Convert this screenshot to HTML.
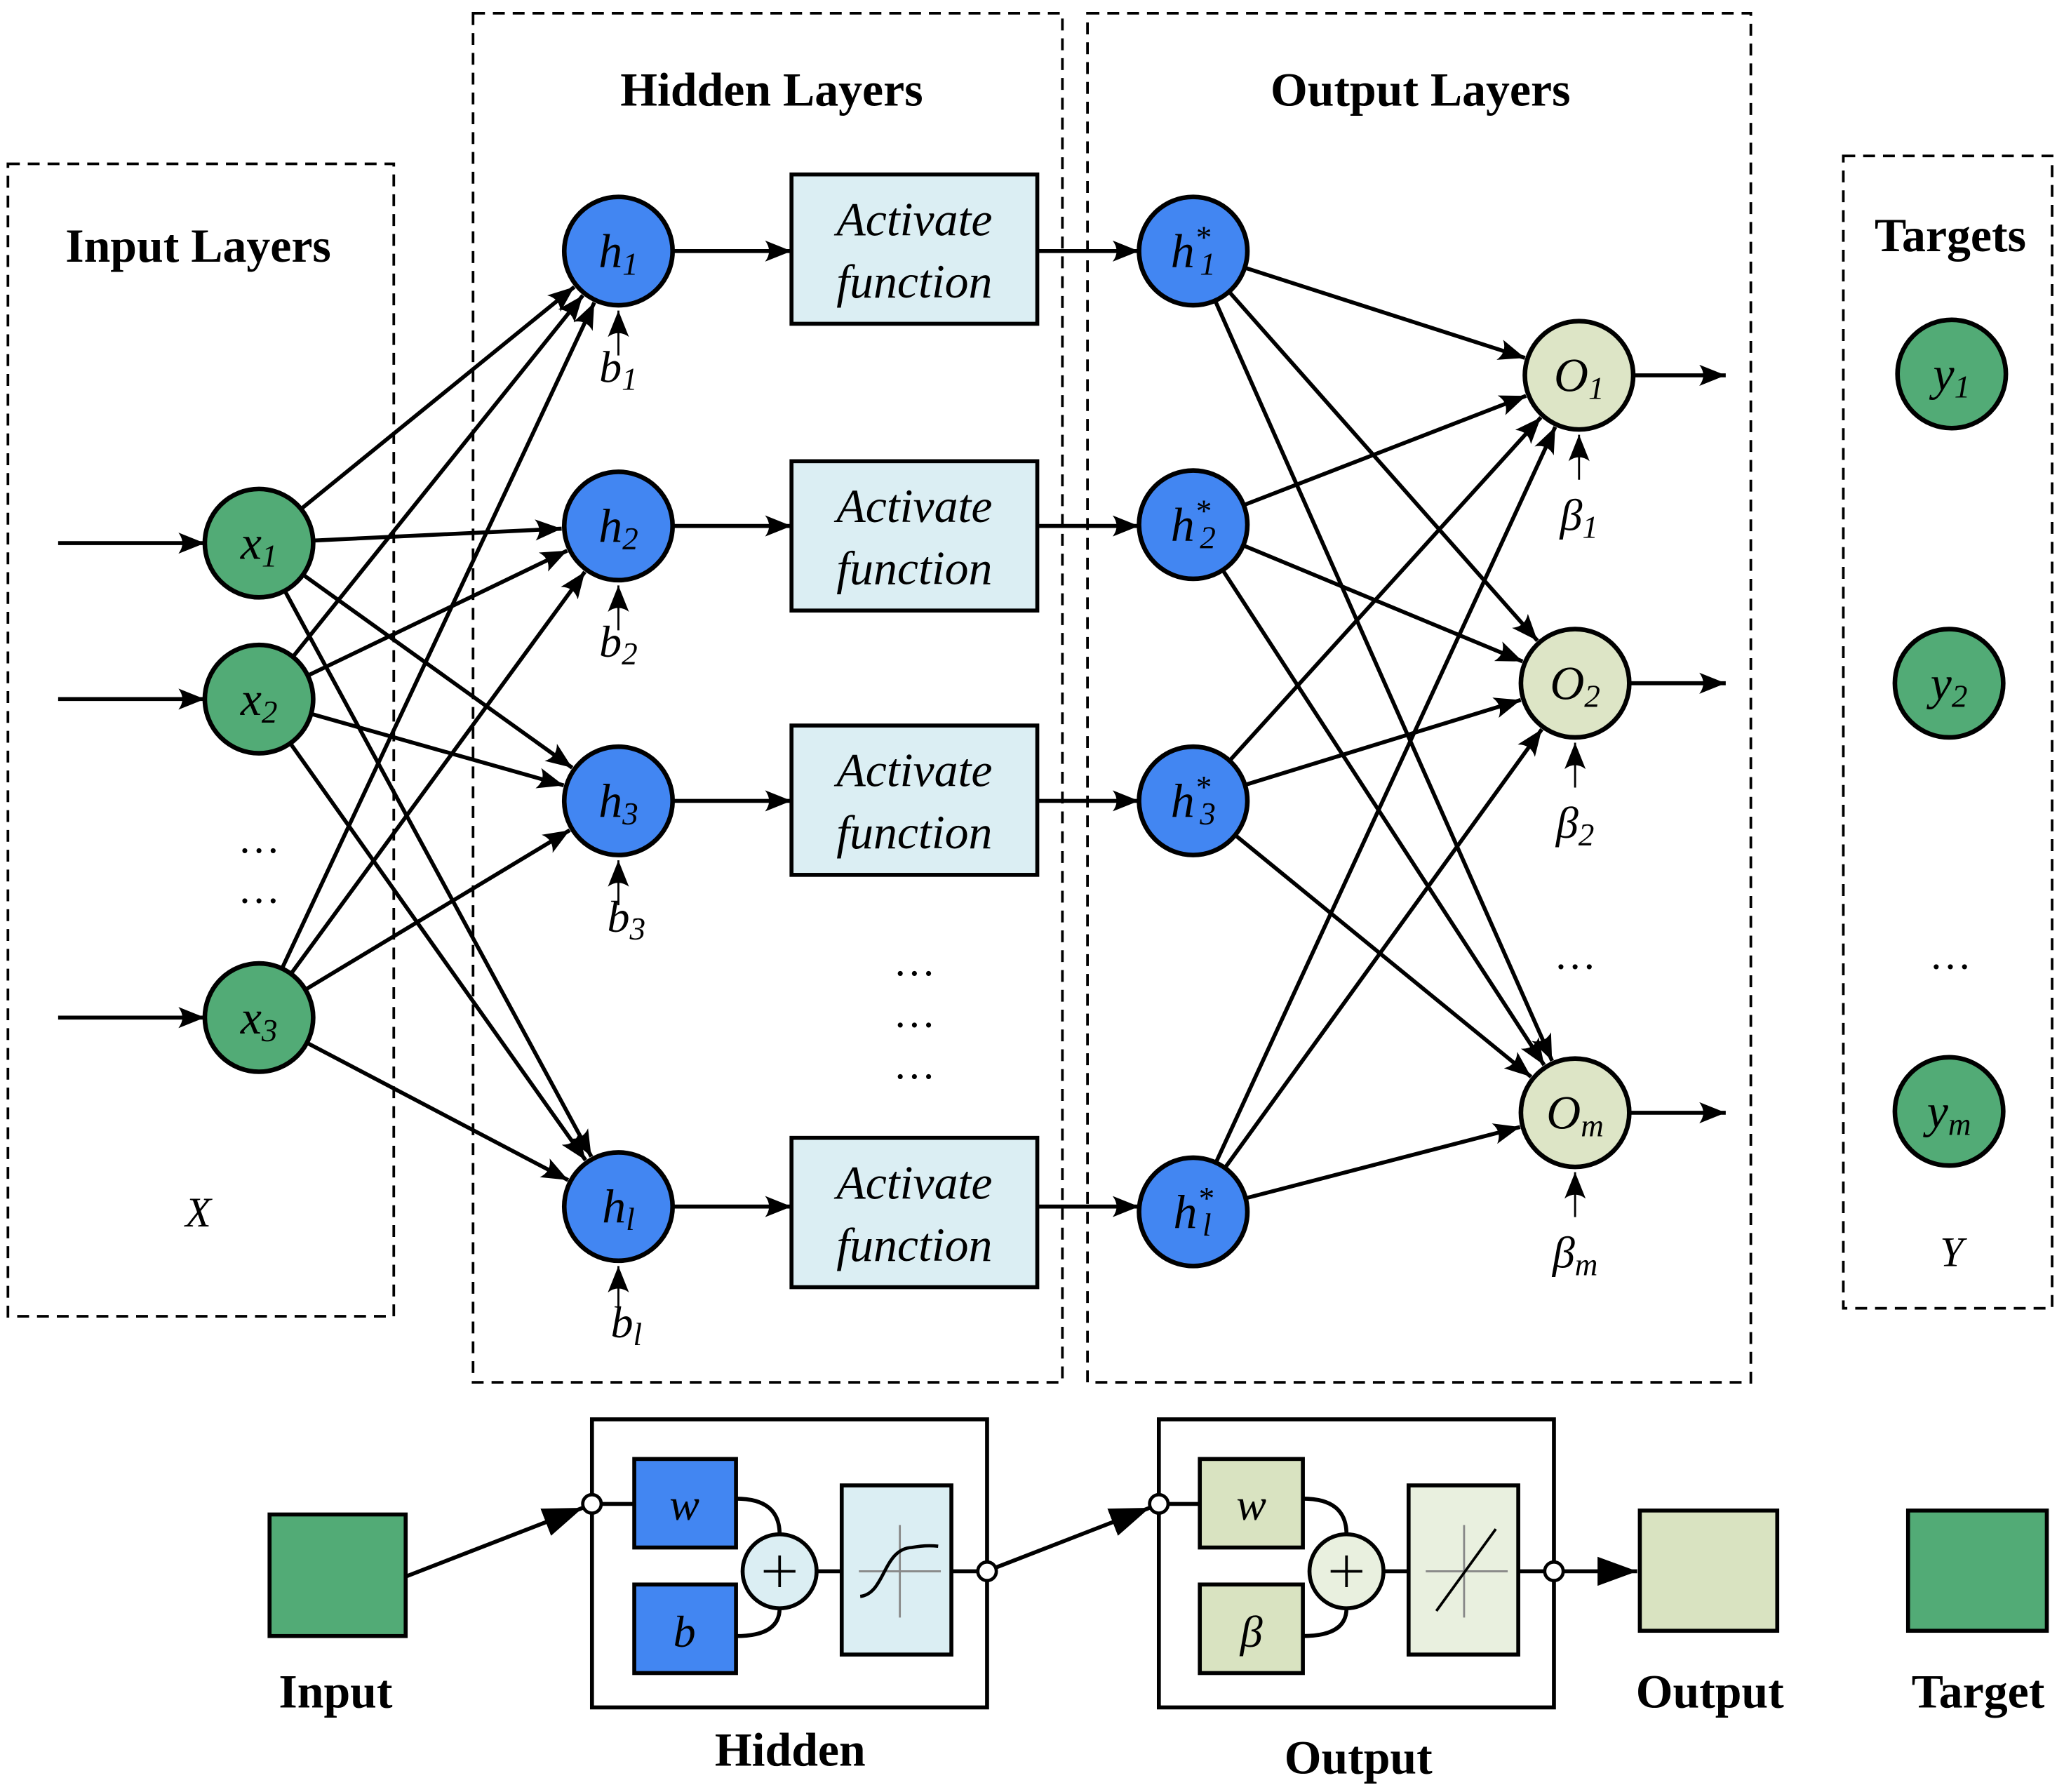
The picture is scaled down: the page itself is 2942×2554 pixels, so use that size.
<!DOCTYPE html>
<html><head><meta charset="utf-8"><style>
html,body{margin:0;padding:0;background:#fff}
svg{display:block}
text{font-family:"Liberation Serif",serif}
</style></head><body>
<svg id="s" width="2942" height="2554" viewBox="0 0 1562 1356" xmlns="http://www.w3.org/2000/svg">
<defs>
<marker id="a" viewBox="0 0 20 16" refX="20" refY="8" markerWidth="20" markerHeight="16" markerUnits="userSpaceOnUse" orient="auto">
<path d="M0,0 Q6,8 0,16 L20,8 Z" fill="#000"/></marker>
<marker id="t" viewBox="0 0 30 22" refX="30" refY="11" markerWidth="30" markerHeight="22" markerUnits="userSpaceOnUse" orient="auto">
<path d="M0,0 L30,11 L0,22 Z" fill="#000"/></marker>
</defs>
<g fill="none" stroke="#000" stroke-width="2" stroke-dasharray="9,6">
<rect x="6" y="124" width="292" height="872"/>
<rect x="358" y="10" width="446" height="1036"/>
<rect x="823" y="10" width="502" height="1036"/>
<rect x="1395" y="118" width="158" height="872"/>
</g>
<g font-size="36" font-weight="bold" text-anchor="middle">
<text x="150" y="198">Input Layers</text>
<text x="584" y="80">Hidden Layers</text>
<text x="1075" y="80">Output Layers</text>
<text x="1476" y="190">Targets</text>
</g>
<g id="edges" stroke="#000" stroke-width="3" fill="none"></g>
<g id="nodes"></g>
<g font-size="32" font-style="italic" text-anchor="middle">
<text x="150" y="928">X</text>
<text x="1477" y="958">Y</text>
<text x="196" y="645" font-style="normal">…</text>
<text x="196" y="683" font-style="normal">…</text>
<text x="692" y="738" font-style="normal">…</text>
<text x="692" y="777" font-style="normal">…</text>
<text x="692" y="816" font-style="normal">…</text>
<text x="1192" y="733" font-style="normal">…</text>
<text x="1476" y="733" font-style="normal">…</text>
</g>
<g stroke="#000">
<rect x="204" y="1146" width="103" height="92" fill="#52ab76" stroke-width="3"/>
<rect x="448" y="1074" width="299" height="218" fill="none" stroke-width="3"/>
<rect x="877" y="1074" width="299" height="218" fill="none" stroke-width="3"/>
<line x1="448" y1="1138" x2="480" y2="1138" stroke-width="3"/>
<line x1="877" y1="1138" x2="908" y2="1138" stroke-width="3"/>
<path d="M557,1134 Q590,1134 590,1161 M557,1238 Q590,1238 590,1217 M618,1189 H637 M720,1189 H747" fill="none" stroke-width="3"/>
<path d="M986,1134 Q1019,1134 1019,1161 M986,1238 Q1019,1238 1019,1217 M1047,1189 H1066 M1149,1189 H1176" fill="none" stroke-width="3"/>
<rect x="480" y="1104" width="77" height="67" fill="#4286f2" stroke-width="3"/>
<rect x="480" y="1199" width="77" height="67" fill="#4286f2" stroke-width="3"/>
<rect x="908" y="1104" width="78" height="67" fill="#d9e3c1" stroke-width="3"/>
<rect x="908" y="1199" width="78" height="67" fill="#d9e3c1" stroke-width="3"/>
<ellipse cx="590" cy="1189" rx="28" ry="28" fill="#dbeef3" stroke-width="3"/>
<ellipse cx="1019" cy="1189" rx="28" ry="28" fill="#e9f0df" stroke-width="3"/>
<path d="M578,1189 H602 M590,1177 V1201 M1007,1189 H1031 M1019,1177 V1201" stroke-width="2"/>
<rect x="637" y="1124" width="83" height="128" fill="#dbeef3" stroke-width="3"/>
<rect x="1066" y="1124" width="83" height="128" fill="#e9f0df" stroke-width="3"/>
<path d="M650,1189 H712 M681,1154 V1224 M1079,1189 H1141 M1108,1154 V1224" stroke="#888" stroke-width="1.5"/>
<path d="M651,1208 C670,1206 668,1172 690,1171 Q700,1169 710,1170" fill="none" stroke-width="2.5"/>
<path d="M1087,1219 L1132,1157" fill="none" stroke-width="2"/>
<rect x="1241" y="1143" width="104" height="91" fill="#d9e3c1" stroke-width="3"/>
<rect x="1444" y="1143" width="105" height="91" fill="#52ab76" stroke-width="3"/>
<line x1="307" y1="1193" x2="441" y2="1141" stroke-width="3" marker-end="url(#t)"/>
<line x1="754" y1="1186" x2="870" y2="1141" stroke-width="3" marker-end="url(#t)"/>
<line x1="1183" y1="1189" x2="1239" y2="1189" stroke-width="3" marker-end="url(#t)"/>
<circle cx="448" cy="1138" r="7" fill="#fff" stroke-width="2.5"/>
<circle cx="747" cy="1189" r="7" fill="#fff" stroke-width="2.5"/>
<circle cx="877" cy="1138" r="7" fill="#fff" stroke-width="2.5"/>
<circle cx="1176" cy="1189" r="7" fill="#fff" stroke-width="2.5"/>
</g>
<g font-size="34" font-style="italic" text-anchor="middle">
<text x="518" y="1150">w</text><text x="518" y="1246">b</text>
<text x="947" y="1150">w</text><text x="947" y="1246">β</text>
</g>
<g font-size="36" font-weight="bold" text-anchor="middle">
<text x="254" y="1292">Input</text>
<text x="598" y="1336">Hidden</text>
<text x="1028" y="1342">Output</text>
<text x="1294" y="1292">Output</text>
<text x="1497" y="1292">Target</text>
</g>
</svg>
<script>
var NS="http://www.w3.org/2000/svg";
var E=document.getElementById("edges"),N=document.getElementById("nodes");
function el(p,t,a,txt){var e=document.createElementNS(NS,t);for(var k in a)e.setAttribute(k,a[k]);if(txt!==undefined)e.innerHTML=txt;p.appendChild(e);return e;}
function ln(x1,y1,x2,y2,w){el(E,"line",{x1:x1,y1:y1,x2:x2,y2:y2,"stroke-width":w||3,"marker-end":"url(#a)"});}
var R=41;
function sub(s){return "<tspan baseline-shift='-25%' font-size='24'>"+s+"</tspan>";}
var X=[[196,411,"1"],[196,529,"2"],[196,770,"3"]];
var H=[[468,190,"1"],[468,398,"2"],[468,606,"3"],[468,913,"l"]];
var HS=[[903,190,"1"],[903,397,"2"],[903,606,"3"],[903,917,"l"]];
var O=[[1195,284,"1"],[1192,517,"2"],[1192,842,"m"]];
var Y=[[1477,283,"1"],[1475,517,"2"],[1475,841,"m"]];
function edge(a,b){var dx=b[0]-a[0],dy=b[1]-a[1],d=Math.hypot(dx,dy);ln(a[0]+dx/d*R,a[1]+dy/d*R,b[0]-dx/d*(R+2),b[1]-dy/d*(R+2));}
X.forEach(function(x){ln(44,x[1],x[0]-R,x[1]);H.forEach(function(h){edge(x,h);});});
HS.forEach(function(h){O.forEach(function(o){edge(h,o);});});
var boxY=[132,349,549,861];
H.forEach(function(h,i){ln(h[0]+R,h[1],599,h[1]);ln(785,h[1],HS[i][0]-R,h[1]);
 ln(h[0],h[1]+R+38,h[0],h[1]+R+4,1.5);});
O.forEach(function(o){ln(o[0]+R,o[1],1306,o[1]);ln(o[0],o[1]+R+38,o[0],o[1]+R+4,1.5);});
function circ(c,fill,label){el(N,"circle",{cx:c[0],cy:c[1],r:R,fill:fill,stroke:"#000","stroke-width":3.5});
 el(N,"text",{x:c[0],y:c[1]+12,"font-size":36,"font-style":"italic","text-anchor":"middle"},label);}
X.forEach(function(x){circ(x,"#52ab76","x"+sub(x[2]));});
H.forEach(function(h,i){circ(h,"#4286f2","h"+sub(h[2]));
 el(N,"text",{x:h[0]+(i==2||i==3?6:0),y:h[1]+R+58,"font-size":34,"font-style":"italic","text-anchor":"middle"},"b"+sub(h[2]));
 el(N,"rect",{x:599,y:boxY[i],width:186,height:113,fill:"#dbeef3",stroke:"#000","stroke-width":3});
 el(N,"text",{x:692,y:boxY[i]+46,"font-size":36,"font-style":"italic","text-anchor":"middle"},"Activate");
 el(N,"text",{x:692,y:boxY[i]+93,"font-size":36,"font-style":"italic","text-anchor":"middle"},"function");});
HS.forEach(function(h){circ(h,"#4286f2","h<tspan baseline-shift='60%' font-size='24'>*</tspan><tspan dx='-8' baseline-shift='-25%' font-size='24'>"+h[2]+"</tspan>");});
O.forEach(function(o){circ(o,"#dde5c6","O"+sub(o[2]));
 el(N,"text",{x:o[0],y:o[1]+R+76,"font-size":34,"font-style":"italic","text-anchor":"middle"},"β"+sub(o[2]));});
Y.forEach(function(y){circ(y,"#52ab76","y"+sub(y[2]));});
</script>
</body></html>
